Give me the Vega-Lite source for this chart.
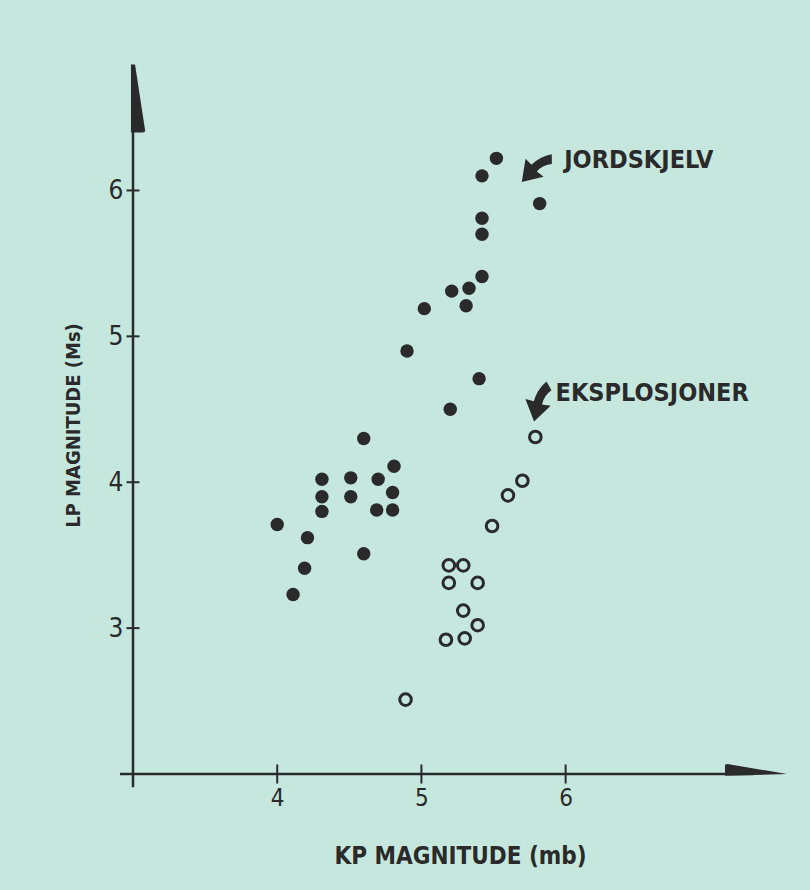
{
  "$schema": "https://vega.github.io/schema/vega-lite/v6.json",
  "width": 654,
  "height": 709,
  "autosize": {"type": "none"},
  "padding": {"left": 133, "top": 65, "right": 23, "bottom": 116},
  "background": "#c6e7dd",
  "config": {
    "view": {"stroke": null},
    "font": "DejaVu Sans Condensed",
    "axis": {
      "domain": false,
      "ticks": false,
      "grid": false,
      "format": "d",
      "labelColor": "#2a2a2a",
      "titleColor": "#2a2a2a",
      "labelFont": "DejaVu Sans Condensed",
      "titleFont": "DejaVu Sans Condensed",
      "titleFontWeight": "bold"
    }
  },
  "datasets": {
    "jordskjelv": [
      {"mb": 5.52, "ms": 6.22}, {"mb": 5.42, "ms": 6.10}, {"mb": 5.82, "ms": 5.91},
      {"mb": 5.42, "ms": 5.81}, {"mb": 5.42, "ms": 5.70}, {"mb": 5.42, "ms": 5.41},
      {"mb": 5.21, "ms": 5.31}, {"mb": 5.33, "ms": 5.33}, {"mb": 5.31, "ms": 5.21},
      {"mb": 5.02, "ms": 5.19}, {"mb": 4.90, "ms": 4.90}, {"mb": 5.40, "ms": 4.71},
      {"mb": 5.20, "ms": 4.50}, {"mb": 4.60, "ms": 4.30}, {"mb": 4.81, "ms": 4.11},
      {"mb": 4.31, "ms": 4.02}, {"mb": 4.31, "ms": 3.90}, {"mb": 4.31, "ms": 3.80},
      {"mb": 4.51, "ms": 4.03}, {"mb": 4.51, "ms": 3.90}, {"mb": 4.70, "ms": 4.02},
      {"mb": 4.80, "ms": 3.93}, {"mb": 4.69, "ms": 3.81}, {"mb": 4.80, "ms": 3.81},
      {"mb": 4.00, "ms": 3.71}, {"mb": 4.21, "ms": 3.62}, {"mb": 4.60, "ms": 3.51},
      {"mb": 4.19, "ms": 3.41}, {"mb": 4.11, "ms": 3.23}
    ],
    "eksplosjoner": [
      {"mb": 5.79, "ms": 4.31}, {"mb": 5.70, "ms": 4.01}, {"mb": 5.60, "ms": 3.91},
      {"mb": 5.49, "ms": 3.70}, {"mb": 5.19, "ms": 3.43}, {"mb": 5.29, "ms": 3.43},
      {"mb": 5.19, "ms": 3.31}, {"mb": 5.39, "ms": 3.31}, {"mb": 5.29, "ms": 3.12},
      {"mb": 5.39, "ms": 3.02}, {"mb": 5.17, "ms": 2.92}, {"mb": 5.30, "ms": 2.93},
      {"mb": 4.89, "ms": 2.51}
    ],
    "xticks": [{"v": 4}, {"v": 5}, {"v": 6}],
    "yticks": [{"v": 3}, {"v": 4}, {"v": 5}, {"v": 6}],
    "one": [{}]
  },
  "layer": [
    {
      "data": {"name": "jordskjelv"},
      "mark": {"type": "point", "shape": "circle", "filled": true, "size": 180, "color": "#2a2a2a", "opacity": 1},
      "encoding": {
        "x": {
          "field": "mb", "type": "quantitative", "title": "KP MAGNITUDE (mb)",
          "scale": {"domain": [3, 7.535], "nice": false, "zero": false},
          "axis": {"values": [4, 5, 6], "labelFontSize": 24, "labelPadding": 12, "titleFontSize": 24, "titleX": 327, "titleY": 82, "titleBaseline": "middle"}
        },
        "y": {
          "field": "ms", "type": "quantitative", "title": "LP MAGNITUDE (Ms)",
          "scale": {"domain": [2, 6.86], "nice": false, "zero": false},
          "axis": {"values": [3, 4, 5, 6], "labelFontSize": 26, "labelPadding": 10, "titleFontSize": 20, "titleX": -60, "titleY": 360, "titleAngle": -90, "titleAlign": "center", "titleBaseline": "middle"}
        }
      }
    },
    {
      "data": {"name": "eksplosjoner"},
      "mark": {"type": "point", "shape": "circle", "filled": false, "size": 135, "strokeWidth": 3, "color": "#2a2a2a", "opacity": 1},
      "encoding": {
        "x": {"field": "mb", "type": "quantitative", "title": "KP MAGNITUDE (mb)"},
        "y": {"field": "ms", "type": "quantitative", "title": "LP MAGNITUDE (Ms)"}
      }
    },
    {
      "data": {"name": "one"},
      "mark": {"type": "rule", "color": "#2a2a2a", "strokeWidth": 2.5, "clip": false},
      "encoding": {
        "x": {"datum": 2.91, "type": "quantitative", "title": "KP MAGNITUDE (mb)"},
        "x2": {"datum": 7.3},
        "y": {"datum": 2, "type": "quantitative", "title": "LP MAGNITUDE (Ms)"}
      }
    },
    {
      "data": {"name": "one"},
      "mark": {"type": "rule", "color": "#2a2a2a", "strokeWidth": 2.5, "clip": false},
      "encoding": {
        "x": {"datum": 3, "type": "quantitative", "title": "KP MAGNITUDE (mb)"},
        "y": {"datum": 1.91, "type": "quantitative", "title": "LP MAGNITUDE (Ms)"},
        "y2": {"datum": 6.6}
      }
    },
    {
      "data": {"name": "xticks"},
      "mark": {"type": "tick", "orient": "vertical", "size": 19, "thickness": 2, "color": "#2a2a2a", "opacity": 1},
      "encoding": {
        "x": {"field": "v", "type": "quantitative", "title": "KP MAGNITUDE (mb)"},
        "y": {"datum": 2, "type": "quantitative", "title": "LP MAGNITUDE (Ms)"}
      }
    },
    {
      "data": {"name": "yticks"},
      "mark": {"type": "tick", "orient": "horizontal", "size": 13, "thickness": 2, "color": "#2a2a2a", "opacity": 1},
      "encoding": {
        "x": {"datum": 3, "type": "quantitative", "title": "KP MAGNITUDE (mb)"},
        "y": {"field": "v", "type": "quantitative", "title": "LP MAGNITUDE (Ms)"}
      }
    },
    {
      "data": {"name": "one"},
      "mark": {"type": "point", "shape": "M -1 -0.3 L -0.92 -0.32 L 1 0 L -1 0.06 Z", "filled": true, "size": 3844, "color": "#2a2a2a", "opacity": 1, "strokeWidth": 0, "clip": false},
      "encoding": {
        "x": {"datum": 7.32, "type": "quantitative", "title": "KP MAGNITUDE (mb)"},
        "y": {"datum": 2, "type": "quantitative", "title": "LP MAGNITUDE (Ms)"}
      }
    },
    {
      "data": {"name": "one"},
      "mark": {"type": "point", "shape": "M -0.06 -1 L 0.06 -1 L 0.36 0.96 L 0.3 1 L -0.06 1 Z", "filled": true, "size": 4624, "color": "#2a2a2a", "opacity": 1, "strokeWidth": 0, "clip": false},
      "encoding": {
        "x": {"datum": 3, "type": "quantitative", "title": "KP MAGNITUDE (mb)"},
        "y": {"datum": 6.63, "type": "quantitative", "title": "LP MAGNITUDE (Ms)"}
      }
    },
    {
      "data": {"name": "one"},
      "mark": {"type": "point", "shape": "M -1 1 L -0.75 -0.55 L -0.35 -0.15 Q 0.2 -0.7 1 -0.85 L 1 -0.2 Q 0.4 -0.15 0.0 0.3 L 0.45 0.65 Z", "filled": true, "size": 900, "color": "#2a2a2a", "opacity": 1, "strokeWidth": 0},
      "encoding": {
        "x": {"datum": 5.8, "type": "quantitative", "title": "KP MAGNITUDE (mb)"},
        "y": {"datum": 6.16, "type": "quantitative", "title": "LP MAGNITUDE (Ms)"}
      }
    },
    {
      "data": {"name": "one"},
      "mark": {"type": "point", "shape": "M -1 1 L -0.75 -0.55 L -0.35 -0.15 Q 0.2 -0.7 1 -0.85 L 1 -0.2 Q 0.4 -0.15 0.0 0.3 L 0.45 0.65 Z", "filled": true, "size": 950, "angle": 330, "color": "#2a2a2a", "opacity": 1, "strokeWidth": 0},
      "encoding": {
        "x": {"datum": 5.82, "type": "quantitative", "title": "KP MAGNITUDE (mb)"},
        "y": {"datum": 4.56, "type": "quantitative", "title": "LP MAGNITUDE (Ms)"}
      }
    },
    {
      "data": {"name": "one"},
      "mark": {"type": "text", "text": "JORDSKJELV", "align": "left", "baseline": "middle", "font": "DejaVu Sans Condensed", "fontWeight": "bold", "fontSize": 25, "color": "#2a2a2a"},
      "encoding": {
        "x": {"datum": 5.99, "type": "quantitative", "title": "KP MAGNITUDE (mb)"},
        "y": {"datum": 6.21, "type": "quantitative", "title": "LP MAGNITUDE (Ms)"}
      }
    },
    {
      "data": {"name": "one"},
      "mark": {"type": "text", "text": "EKSPLOSJONER", "align": "left", "baseline": "middle", "font": "DejaVu Sans Condensed", "fontWeight": "bold", "fontSize": 25, "color": "#2a2a2a"},
      "encoding": {
        "x": {"datum": 5.93, "type": "quantitative", "title": "KP MAGNITUDE (mb)"},
        "y": {"datum": 4.61, "type": "quantitative", "title": "LP MAGNITUDE (Ms)"}
      }
    }
  ]
}
